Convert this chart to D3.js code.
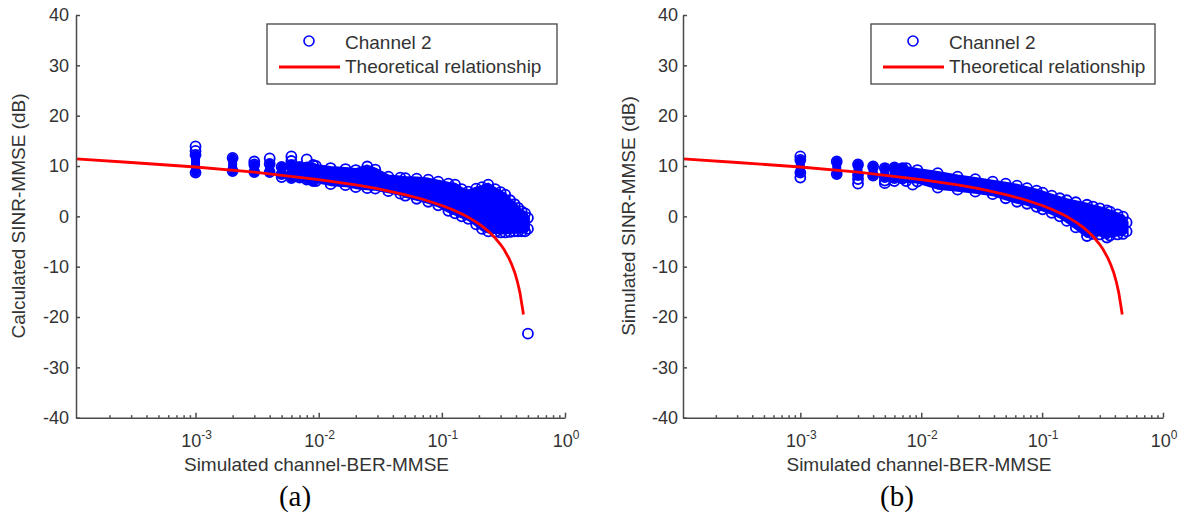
<!DOCTYPE html>
<html>
<head>
<meta charset="utf-8">
<script src="https://cdn.jsdelivr.net/npm/d3@7/dist/d3.min.js"></script>
<style>
  body { margin: 0; background: #fff; }
  svg { display: block; font-family: 'Liberation Sans', Arial, sans-serif; }
</style>
</head>
<body>
<div id="graph"></div>
<script>
// axis ticks
const decadeTicks = [1e-3, 1e-2, 1e-1, 1];
const decadeLabels = ['-3', '-2', '-1', '0'];
const yTicks = [40, 30, 20, 10, 0, -10, -20, -30, -40];
const xMin = 1.07e-4;

// theoretical curve, BER vs SINR (dB)
const theoryBer = [1.07e-4, 3e-4, 1e-3, 3e-3, 0.01, 0.02, 0.03, 0.05, 0.07, 0.1, 0.12, 0.15, 0.17,
  0.2, 0.22, 0.25, 0.27, 0.3, 0.32, 0.35, 0.37, 0.39, 0.41, 0.43, 0.45, 0.46];
const theorySinr = [11.4, 10.7, 9.8, 8.8, 7.3, 6.25, 5.5, 4.3, 3.4, 2.15, 1.4, 0.3, -0.4,
  -1.5, -2.25, -3.4, -4.25, -5.6, -6.6, -8.3, -9.6, -11.1, -12.9, -15.1, -18.0, -19.5];

// (a) low BER columns: [ber, lowest, highest]
const colsA = [
  [0.001, 8.7, 12.2], [0.002, 9.0, 11.6], [0.003, 8.8, 10.3], [0.004, 8.8, 10.4],
  [0.005, 8.4, 9.8], [0.006, 7.6, 10.2], [0.007, 7.7, 9.8], [0.008, 7.3, 9.7], [0.009, 7.0, 9.5]
];
// (a) loose circles: [ber, sinr]
const ringsA = [
  [0.001, 13.0], [0.001, 13.9], [0.003, 10.9], [0.004, 11.5], [0.005, 7.8],
  [0.006, 11.0], [0.006, 11.9], [0.008, 11.3], [0.009, 10.2], [0.5, -23.3]
];
// (a) dense cloud envelope: [ber, low, high]
const bandA = [
  [0.0095, 7.0, 10.0], [0.0125, 6.4, 9.6], [0.0165, 6.2, 9.4], [0.02, 5.8, 9.2],
  [0.0248, 5.6, 9.9], [0.0288, 5.5, 9.3], [0.0368, 5.0, 7.9], [0.046, 4.5, 7.7],
  [0.0505, 4.1, 7.6], [0.0625, 3.5, 7.5], [0.0776, 2.9, 7.3], [0.0935, 2.2, 6.9],
  [0.113, 1.1, 6.5], [0.128, 0.6, 6.3], [0.145, 0.0, 5.4], [0.164, -0.5, 4.9],
  [0.19, -1.6, 5.5], [0.212, -2.5, 5.8], [0.238, -3.0, 6.3], [0.271, -3.1, 5.4],
  [0.3, -3.2, 4.8], [0.327, -3.2, 4.3], [0.358, -3.1, 3.2], [0.39, -3.0, 2.4],
  [0.416, -3.0, 1.7], [0.445, -3.0, 1.0], [0.474, -3.0, 0.6], [0.5, -2.5, -0.3]
];

// (b)
const colsB = [
  [0.001, 8.7, 11.2], [0.002, 8.4, 10.9], [0.003, 8.2, 10.3], [0.004, 8.1, 9.9],
  [0.005, 7.8, 9.6], [0.006, 7.6, 9.7], [0.007, 7.5, 9.6]
];
const ringsB = [
  [0.001, 7.7], [0.001, 11.9], [0.003, 6.5], [0.003, 7.4], [0.005, 7.1],
  [0.005, 6.6], [0.006, 7.0], [0.0085, 6.3]
];
const bandB = [
  [0.0075, 7.0, 9.6], [0.0093, 6.9, 9.2], [0.0137, 5.7, 8.6], [0.02, 5.3, 7.9],
  [0.028, 4.9, 7.4], [0.039, 4.4, 6.9], [0.05, 3.6, 6.5], [0.062, 2.9, 6.1],
  [0.075, 2.5, 5.6], [0.09, 1.9, 5.1], [0.101, 1.4, 4.7], [0.12, 0.7, 4.1],
  [0.14, 0.0, 3.6], [0.16, -0.9, 3.2], [0.19, -2.2, 2.8], [0.235, -3.9, 2.3],
  [0.263, -3.5, 1.95], [0.3, -3.6, 1.6], [0.344, -4.2, 1.2], [0.364, -3.8, 0.95],
  [0.42, -3.6, 0.4], [0.466, -3.5, -0.05], [0.5, -3.0, -1.2]
];

const legendLabels = ['Channel 2', 'Theoretical relationship'];
const yTitles = ['Calculated SINR-MMSE (dB)', 'Simulated SINR-MMSE (dB)'];
const xTitle = 'Simulated channel-BER-MMSE';
const panelLabels = ['(a)', '(b)'];

const blue = '#0000ff',
  red = '#ff0000',
  axisColor = '#4a4a4a',
  textColor = '#333';

let panels = [
  { left: 76, right: 565, top: 15, bottom: 417.7, cols: colsA, rings: ringsA, band: bandA,
    legX: 267, legW: 290, yTitleX: 25, tagX: 295, gap: 7 },
  { left: 683, right: 1163, top: 15, bottom: 417.7, cols: colsB, rings: ringsB, band: bandB,
    legX: 871, legW: 284, yTitleX: 635, tagX: 897, gap: 5 }
];

let minorTicks = [];
[-4, -3, -2, -1].forEach(function(e) {
  d3.range(2, 10).forEach(function(m) {
    let v = m * Math.pow(10, e);
    if (v >= xMin) minorTicks.push(v);
  });
});

let svg = d3.select('#graph').append('svg').attr('width', 1185).attr('height', 518);

function drawPanel(p, k) {
  let x = d3.scaleLog().domain([xMin, 1]).range([p.left, p.right]);
  let y = d3.scaleLinear().domain([-40, 40]).range([p.bottom, p.top]);
  let g = svg.append('g');

  // dense part of the cloud
  let area = d3.area()
    .x(function(d) { return x(d[0]); })
    .y0(function(d) { return y(d[1]); })
    .y1(function(d) { return y(d[2]); });
  g.append('path').datum(p.band)
    .attr('d', area)
    .attr('fill', blue)
    .attr('stroke', blue)
    .attr('stroke-width', 4)
    .attr('stroke-linejoin', 'round');

  g.selectAll('line.col').data(p.cols).enter().append('line')
    .attr('class', 'col')
    .attr('x1', function(d) { return x(d[0]); })
    .attr('x2', function(d) { return x(d[0]); })
    .attr('y1', function(d) { return y(d[1]); })
    .attr('y2', function(d) { return y(d[2]); })
    .attr('stroke', blue)
    .attr('stroke-width', 9)
    .attr('stroke-linecap', 'round');

  let pts = [];
  p.cols.forEach(function(c) { pts.push([c[0], c[1]], [c[0], c[2]]); });
  p.band.forEach(function(b) { pts.push([b[0], b[1]], [b[0], b[2]]); });
  p.rings.forEach(function(r) { pts.push(r); });

  g.selectAll('circle.pt').data(pts).enter().append('circle')
    .attr('class', 'pt')
    .attr('cx', function(d) { return x(d[0]); })
    .attr('cy', function(d) { return y(d[1]); })
    .attr('r', 5)
    .attr('fill', 'none')
    .attr('stroke', blue)
    .attr('stroke-width', 1.8);

  // theory curve
  let line = d3.line()
    .x(function(d, i) { return x(theoryBer[i]); })
    .y(function(d) { return y(d); });
  g.append('path').datum(theorySinr)
    .attr('d', line)
    .attr('fill', 'none')
    .attr('stroke', red)
    .attr('stroke-width', 2.8);

  // axes
  let yAxis = d3.axisLeft(y)
    .tickValues(yTicks)
    .tickSizeInner(-4)
    .tickSizeOuter(0)
    .tickPadding(p.gap)
    .tickFormat(function(d) { return String(d); });
  let yg = g.append('g').attr('transform', 'translate(' + p.left + ',0)').call(yAxis);

  let xg = g.append('g').attr('transform', 'translate(0,' + p.bottom + ')')
    .call(d3.axisBottom(x).tickValues(minorTicks).tickSizeInner(-2.5).tickSizeOuter(0).tickFormat(''));
  let xg2 = g.append('g').attr('transform', 'translate(0,' + p.bottom + ')')
    .call(d3.axisBottom(x).tickValues(decadeTicks).tickSizeInner(-5).tickSizeOuter(0).tickFormat(''));

  [yg, xg, xg2].forEach(function(a) {
    a.selectAll('path, line').attr('stroke', axisColor).attr('stroke-width', 1.5);
    a.selectAll('text').attr('fill', textColor).attr('font-size', 18)
      .attr('font-family', "'Liberation Sans', Arial, sans-serif");
  });
  xg2.select('.domain').remove();

  g.selectAll('text.xt').data(decadeTicks).enter().append('text')
    .attr('class', 'xt')
    .attr('x', function(d) { return x(d) + 1; })
    .attr('y', p.bottom + 29)
    .attr('text-anchor', 'middle')
    .attr('fill', textColor)
    .attr('font-size', 18)
    .each(function(d, i) {
      let t = d3.select(this);
      t.append('tspan').text('10');
      t.append('tspan').attr('dy', -8).attr('font-size', 12).text(decadeLabels[i]);
    });

  // titles
  g.append('text')
    .attr('x', (p.left + p.right) / 2 - 4)
    .attr('y', 470.5)
    .attr('text-anchor', 'middle')
    .attr('fill', textColor)
    .attr('font-size', 19)
    .text(xTitle);

  g.append('text')
    .attr('transform', 'translate(' + p.yTitleX + ',216) rotate(-90)')
    .attr('text-anchor', 'middle')
    .attr('fill', textColor)
    .attr('font-size', 19)
    .text(yTitles[k]);

  g.append('text')
    .attr('x', p.tagX)
    .attr('y', 506)
    .attr('text-anchor', 'middle')
    .attr('fill', '#000')
    .attr('font-size', 29)
    .attr('font-family', "'Liberation Serif', 'Times New Roman', serif")
    .text(panelLabels[k]);

  // legend
  let lg = g.append('g');
  lg.append('rect')
    .attr('x', p.legX).attr('y', 24)
    .attr('width', p.legW).attr('height', 60)
    .attr('fill', '#fff')
    .attr('stroke', '#444')
    .attr('stroke-width', 1.3);
  lg.append('circle')
    .attr('cx', p.legX + 42).attr('cy', 41).attr('r', 5)
    .attr('fill', 'none').attr('stroke', blue).attr('stroke-width', 1.6);
  lg.append('line')
    .attr('x1', p.legX + 12).attr('x2', p.legX + 73)
    .attr('y1', 67).attr('y2', 67)
    .attr('stroke', red).attr('stroke-width', 2.8);
  lg.selectAll('text').data(legendLabels).enter().append('text')
    .attr('x', p.legX + 78)
    .attr('y', function(d, i) { return 49 + i * 24; })
    .attr('fill', textColor)
    .attr('font-size', 19)
    .text(function(d) { return d; });
}

panels.forEach(drawPanel);
</script>
</body>
</html>
